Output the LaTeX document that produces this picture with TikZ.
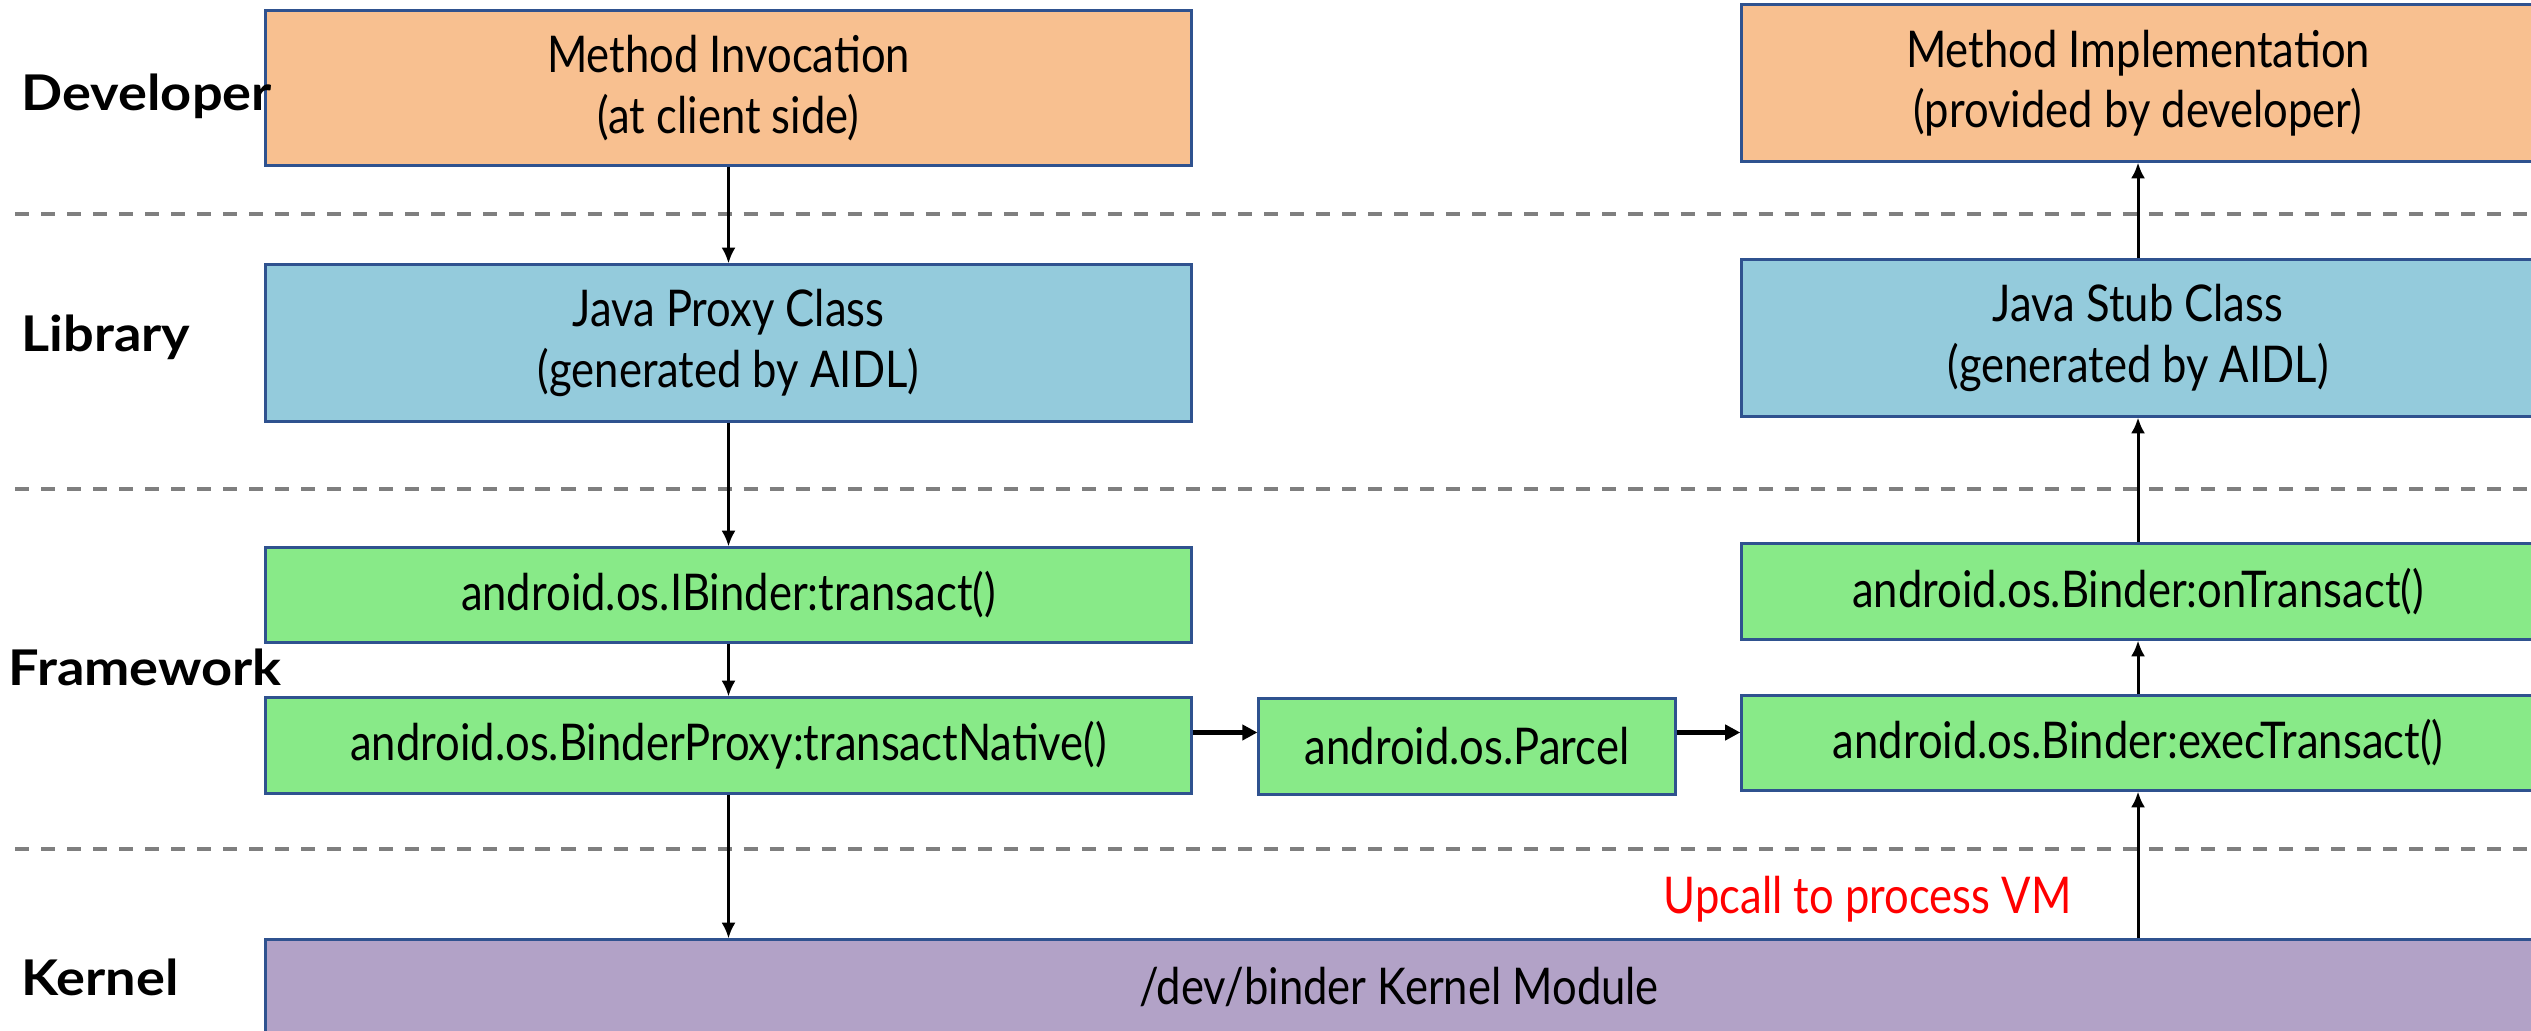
\documentclass[tikz,border=0pt]{standalone}
\usepackage{fontspec}
\setmainfont{Lato}[FakeStretch=0.86]
\newfontfamily\layerfont{Lato}[FakeStretch=1.1]
\usetikzlibrary{arrows.meta}

\definecolor{devorange}{RGB}{248,192,144}
\definecolor{libblue}{RGB}{148,203,220}
\definecolor{fwgreen}{RGB}{136,234,136}
\definecolor{kernpurple}{RGB}{178,162,199}
\definecolor{boxedge}{RGB}{47,82,143}
\definecolor{sepgray}{RGB}{127,127,127}

\tikzset{
  layerbox/.style={draw=boxedge, line width=0.85pt, rectangle, align=center,
    inner sep=0pt, font=\fontsize{14.4}{17.2}\selectfont},
  layername/.style={anchor=base west, inner sep=0pt,
    font=\layerfont\fontsize{14}{17}\selectfont\bfseries},
  callarrow/.style={-{Latex[length=4.5pt,width=4pt]}, line width=0.85pt},
  passarrow/.style={-{Triangle[length=4.3pt,width=4.3pt]}, line width=1.3pt},
}

\begin{document}
\begin{tikzpicture}[x=0.01cm, y=-0.01cm]
    \useasboundingbox (0,0) rectangle (2531,1031);
    % layer separators
    \foreach \y in {214,489,849} {
      \draw[sepgray, line width=1.14pt, dash pattern=on 4pt off 3.4pt] (15,\y) -- (2531,\y);
    }

    % client side
    \node[layerbox, fill=devorange, minimum width=9.25cm, minimum height=1.54cm] (invoke) at (728.5,88) {Method Invocation\\(at client side)};
    \node[layerbox, fill=libblue, minimum width=9.25cm, minimum height=1.56cm] (proxy) at (728.5,343) {Java Proxy Class\\(generated by AIDL)};
    \node[layerbox, fill=fwgreen, minimum width=9.25cm, minimum height=0.94cm] (transact) at (728.5,595) {android.os.IBinder:transact()};
    \node[layerbox, fill=fwgreen, minimum width=9.25cm, minimum height=0.95cm] (binderproxy) at (728.5,745.5) {android.os.BinderProxy:transactNative()};
    \node[layerbox, fill=fwgreen, minimum width=4.16cm, minimum height=0.95cm] (parcel) at (1467,746.5) {android.os.Parcel};

    % server side
    \node[layerbox, fill=devorange, minimum width=7.92cm, minimum height=1.56cm] (impl) at (2138,83) {Method Implementation\\(provided by developer)};
    \node[layerbox, fill=libblue, minimum width=7.92cm, minimum height=1.56cm] (stub) at (2138,338) {Java Stub Class\\(generated by AIDL)};
    \node[layerbox, fill=fwgreen, minimum width=7.92cm, minimum height=0.95cm] (ontransact) at (2138,591.5) {android.os.Binder:onTransact()};
    \node[layerbox, fill=fwgreen, minimum width=7.92cm, minimum height=0.94cm] (exectransact) at (2138,743) {android.os.Binder:execTransact()};

    \node[layerbox, fill=kernpurple, minimum width=22.66cm, minimum height=0.94cm] (kernel) at (1399,987) {/dev/binder Kernel Module};
    \node[anchor=base east, inner sep=0pt, text=red, font=\fontsize{14.4}{17.2}\selectfont] (upcall) at (2072,913) {Upcall to process VM};

    \node[layername] (devlbl) at (21,111) {Developer};
    \node[layername] (liblbl) at (21,352) {Library};
    \node[layername] (fwlbl) at (8,685) {Framework};
    \node[layername] (kernlbl) at (21,995) {Kernel};

    \draw[callarrow] (invoke) -- (proxy);
    \draw[callarrow] (proxy) -- (transact);
    \draw[callarrow] (transact) -- (binderproxy);
    \draw[callarrow] (binderproxy) -- (binderproxy.south |- kernel.north);
    \draw[passarrow] ([yshift=3.7pt]binderproxy.east) -- ([yshift=3.7pt]binderproxy.east -| parcel.west);
    \draw[passarrow] ([yshift=3.7pt]binderproxy.east -| parcel.east) -- ([yshift=3.7pt]binderproxy.east -| exectransact.west);
    \draw[callarrow] (exectransact.south |- kernel.north) -- (exectransact);
    \draw[callarrow] (exectransact) -- (ontransact);
    \draw[callarrow] (ontransact) -- (stub);
    \draw[callarrow] (stub) -- (impl);
  \end{tikzpicture}
\end{document}
